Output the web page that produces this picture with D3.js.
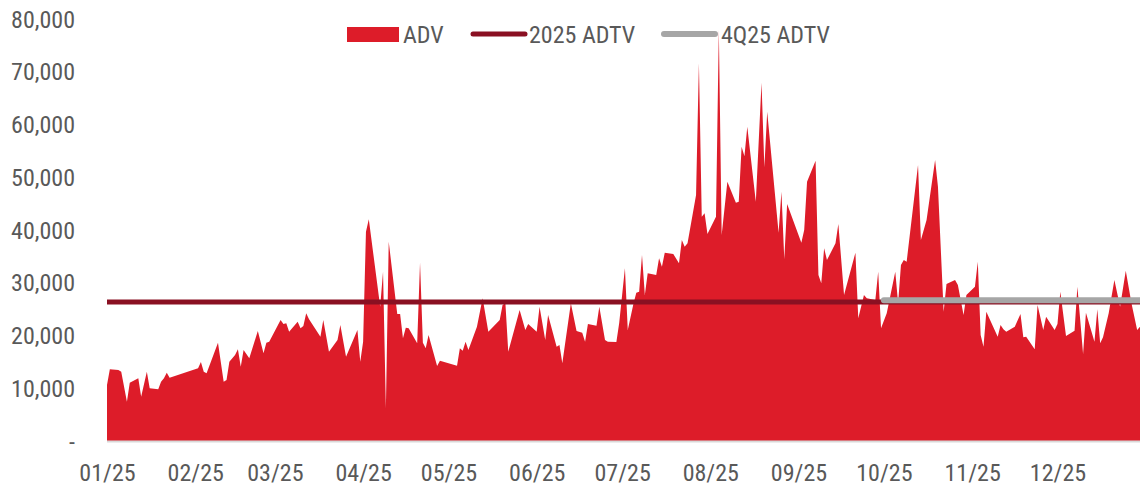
<!DOCTYPE html>
<html>
<head>
<meta charset="utf-8">
<script src="https://cdn.jsdelivr.net/npm/d3@7"></script>
<style>
  body { margin: 0; background: #fff; }
  svg text { font-family: "Liberation Sans Narrow", "Roboto Condensed", "Liberation Sans", sans-serif; fill: #595959; }
</style>
</head>
<body>
<div id="showBox"></div>
<script>
// daily volume (turning points only)
const dates = [
  "2025-01-01","2025-01-02","2025-01-05","2025-01-06","2025-01-08","2025-01-09","2025-01-12","2025-01-13",
  "2025-01-15","2025-01-16","2025-01-19","2025-01-20","2025-01-21","2025-01-22","2025-01-23","2025-02-02",
  "2025-02-03","2025-02-04","2025-02-05","2025-02-09","2025-02-11","2025-02-12","2025-02-13","2025-02-15",
  "2025-02-16","2025-02-17","2025-02-18","2025-02-20","2025-02-23","2025-02-25","2025-02-26","2025-02-27",
  "2025-03-03","2025-03-04","2025-03-05","2025-03-06","2025-03-09","2025-03-10","2025-03-11","2025-03-12",
  "2025-03-13","2025-03-17","2025-03-18","2025-03-20","2025-03-23","2025-03-24","2025-03-26","2025-03-30",
  "2025-03-31","2025-04-01","2025-04-02","2025-04-03","2025-04-07","2025-04-08","2025-04-09","2025-04-10",
  "2025-04-13","2025-04-14","2025-04-15","2025-04-16","2025-04-17","2025-04-20","2025-04-21","2025-04-22",
  "2025-04-23","2025-04-24","2025-04-27","2025-04-28","2025-05-04","2025-05-05","2025-05-06","2025-05-07",
  "2025-05-08","2025-05-11","2025-05-13","2025-05-15","2025-05-19","2025-05-20","2025-05-21","2025-05-22",
  "2025-05-26","2025-05-28","2025-05-29","2025-06-01","2025-06-02","2025-06-04","2025-06-05","2025-06-08",
  "2025-06-09","2025-06-10","2025-06-13","2025-06-15","2025-06-17","2025-06-18","2025-06-19","2025-06-22",
  "2025-06-23","2025-06-25","2025-06-26","2025-06-29","2025-06-30","2025-07-02","2025-07-03","2025-07-05",
  "2025-07-06","2025-07-07","2025-07-08","2025-07-09","2025-07-10","2025-07-13","2025-07-14","2025-07-15",
  "2025-07-16","2025-07-19","2025-07-21","2025-07-22","2025-07-23","2025-07-24","2025-07-27","2025-07-28",
  "2025-07-29","2025-07-30","2025-07-31","2025-08-03","2025-08-04","2025-08-05","2025-08-07","2025-08-10",
  "2025-08-11","2025-08-12","2025-08-13","2025-08-14","2025-08-17","2025-08-19","2025-08-20","2025-08-21",
  "2025-08-25","2025-08-26","2025-08-27","2025-08-28","2025-09-02","2025-09-03","2025-09-04","2025-09-07",
  "2025-09-08","2025-09-09","2025-09-10","2025-09-11","2025-09-14","2025-09-15","2025-09-17","2025-09-21",
  "2025-09-22","2025-09-24","2025-09-25","2025-09-28","2025-09-29","2025-09-30","2025-10-02","2025-10-05",
  "2025-10-06","2025-10-07","2025-10-08","2025-10-09","2025-10-13","2025-10-14","2025-10-16","2025-10-19",
  "2025-10-20","2025-10-22","2025-10-23","2025-10-26","2025-10-27","2025-10-29","2025-10-30","2025-11-02",
  "2025-11-03","2025-11-04","2025-11-05","2025-11-06","2025-11-10","2025-11-11","2025-11-12","2025-11-13",
  "2025-11-16","2025-11-18","2025-11-19","2025-11-20","2025-11-23","2025-11-24","2025-11-26","2025-11-27",
  "2025-11-30","2025-12-01","2025-12-02","2025-12-04","2025-12-07","2025-12-08","2025-12-10","2025-12-11",
  "2025-12-14","2025-12-15","2025-12-16","2025-12-17","2025-12-19","2025-12-21","2025-12-23","2025-12-25",
  "2025-12-27","2025-12-29","2025-12-30"
];
const adv = [
  10600,13600,13460,13140,7450,11050,11880,8400,
  13140,9990,9800,11240,11880,12950,12000,13780,
  14980,13140,12830,18640,11240,11560,15040,16300,
  17380,14090,17250,15680,20850,16620,18640,18830,
  22940,22180,22310,20720,22620,21360,21800,24210,
  23070,19770,22940,16930,19150,21990,15980,21040,
  15040,18830,39680,42020,25460,32090,6200,37780,
  24080,24080,19470,21480,21360,18520,33800,18640,
  17570,20090,14220,15230,14280,17570,17120,18830,
  17250,21670,27050,20720,22940,25780,26100,16930,
  24830,21040,22180,20720,25460,19150,23890,17880,
  18200,14730,26100,20850,20530,18830,22180,21860,
  25460,19150,18830,18770,22430,32740,21040,26000,
  28110,28300,35260,27680,31790,31470,34630,33040,
  35700,35450,33690,38100,36830,37480,46640,71600,
  42520,43160,39240,42520,77900,39050,49150,45170,
  45370,55790,54000,59580,45370,67920,51880,62420,
  39490,47260,34440,44930,37590,40000,49150,53140,
  31470,29890,36530,34310,37480,41140,27680,35700,
  23260,27680,27050,26730,32090,21360,24210,32090,
  26100,33370,34310,33990,52320,38100,41900,53270,
  48210,24520,29760,30520,29570,23890,27680,29250,
  33990,20090,17880,24520,19770,21990,21170,20720,
  21670,24080,19660,19770,17380,25780,21040,23560,
  21040,22180,28300,19900,20910,29250,16490,24320,
  18830,24970,18520,19660,24210,30520,25460,32280,
  26100,21040,21670
];

const adtv2025 = 26350;
const adtv4q25 = 26700;
const q4Start = "2025-10-01";

const yTicks = [0, 10000, 20000, 30000, 40000, 50000, 60000, 70000, 80000];
const monthTicks = ["2025-01-01","2025-02-01","2025-03-01","2025-04-01","2025-05-01","2025-06-01",
  "2025-07-01","2025-08-01","2025-09-01","2025-10-01","2025-11-01","2025-12-01"];
const legendItems = ["ADV", "2025 ADTV", "4Q25 ADTV"];

const W = 1140, H = 492;
const parse = d3.utcParse("%Y-%m-%d");
const data = dates.map((d, i) => ({date: parse(d), v: adv[i]}));

const x = d3.scaleUtc()
    .domain([parse(dates[0]), parse(dates[dates.length - 1])])
    .range([107, 1140]);
const y = d3.scaleLinear().domain([0, 80000]).range([441, 19]);

const svg = d3.select("#showBox").append("svg")
    .attr("width", W).attr("height", H);

// area
svg.append("path")
    .datum(data)
    .attr("fill", "#DD1C29")
    .attr("d", d3.area().x(d => x(d.date)).y0(y(0)).y1(d => y(d.v)));

// baseline
svg.append("line")
    .attr("x1", 107).attr("x2", 1140)
    .attr("y1", y(0) + 0.5).attr("y2", y(0) + 0.5)
    .attr("stroke", "#D9D9D9").attr("stroke-width", 2);

// averages
svg.append("line")
    .attr("x1", x(parse(dates[0]))).attr("x2", x(parse(dates[dates.length - 1])))
    .attr("y1", y(adtv2025)).attr("y2", y(adtv2025))
    .attr("stroke", "#8A1022").attr("stroke-width", 5);

svg.append("line")
    .attr("x1", x(parse(q4Start))).attr("x2", x(parse(dates[dates.length - 1])))
    .attr("y1", y(adtv4q25)).attr("y2", y(adtv4q25))
    .attr("stroke", "#A6A6A6").attr("stroke-width", 6)
    .attr("stroke-linecap", "round");

// y axis labels
const yAxis = svg.append("g")
    .attr("transform", "translate(75,0)")
    .call(d3.axisLeft(y).tickValues(yTicks).tickSize(0).tickPadding(0)
        .tickFormat(d => d === 0 ? "-" : d3.format(",")(d)));
yAxis.select(".domain").remove();
yAxis.selectAll("text").attr("font-size", 24).attr("font-family", null).attr("fill", "#595959")
    .attr("dy", "0.34em");

// x axis labels
const xAxis = svg.append("g")
    .attr("transform", "translate(0,458)")
    .call(d3.axisBottom(x).tickValues(monthTicks.map(parse)).tickSize(0).tickPadding(0)
        .tickFormat(d3.utcFormat("%m/%y")));
xAxis.select(".domain").remove();
xAxis.selectAll("text").attr("font-size", 24).attr("font-family", null).attr("fill", "#595959")
    .attr("dy", "0.95em");

// legend
const lg = svg.append("g");
lg.append("rect").attr("x", 347).attr("y", 27).attr("width", 52).attr("height", 15).attr("fill", "#DD1C29");
lg.append("text").attr("x", 403).attr("y", 43).attr("font-size", 24).text(legendItems[0]);
lg.append("line").attr("x1", 473).attr("x2", 525).attr("y1", 34).attr("y2", 34)
    .attr("stroke", "#8A1022").attr("stroke-width", 5).attr("stroke-linecap", "round");
lg.append("text").attr("x", 529).attr("y", 43).attr("font-size", 24).text(legendItems[1]);
lg.append("line").attr("x1", 664).attr("x2", 715).attr("y1", 34).attr("y2", 34)
    .attr("stroke", "#A6A6A6").attr("stroke-width", 6).attr("stroke-linecap", "round");
lg.append("text").attr("x", 721).attr("y", 43).attr("font-size", 24).text(legendItems[2]);
</script>
</body>
</html>
